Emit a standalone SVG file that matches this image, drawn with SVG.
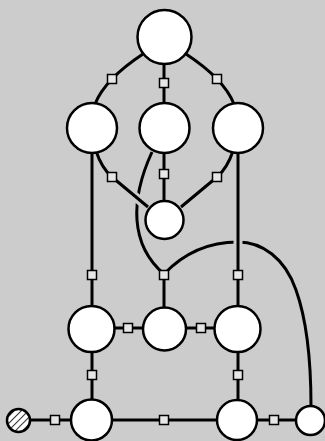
<svg xmlns="http://www.w3.org/2000/svg" width="325" height="441" viewBox="0 0 325 441">
  <defs>
    <style>
      .edge { fill: none; stroke: #000; stroke-width: 3; }
      .gap { fill: none; stroke: #cccccc; stroke-width: 9; }
      .node { fill: #fff; stroke: #000; stroke-width: 2.5; }
      .port { fill: #e6e6e6; stroke: #000; stroke-width: 1.5; }
    </style>
    <pattern id="hatch" patternUnits="userSpaceOnUse" width="5" height="5" patternTransform="rotate(45)">
      <rect width="5" height="5" fill="#fff"/>
      <line x1="0" y1="0" x2="0" y2="5" stroke="#000" stroke-width="1.6"/>
    </pattern>
  </defs>
  <rect width="325" height="441" fill="#cccccc"/>

  <g id="connectors">
    <!-- long curves drawn first so crossing lines can cut a gap into them -->
    <path class="edge" d="M152,152 C130,200 130,245 164,274"/>
    <path class="edge" d="M164,274 C185,252 210,242 238,242 C262,242 285,258 296,290 C306,318 311,360 311,406"/>
    <!-- gaps where straight lines pass over the curves -->
    <path class="gap" d="M131,193 L145,205"/>
    <path class="gap" d="M238,236 L238,248"/>

    <!-- top fan -->
    <path class="edge" d="M143,54 Q105,79 95,104"/>
    <path class="edge" d="M186,54 Q224,79 234,104"/>
    <path class="edge" d="M164,64 L164,103"/>
    <!-- second level to centre node -->
    <path class="edge" d="M96,151 C100,163 105,171 112,177 L148,207"/>
    <path class="edge" d="M233,151 C229,163 224,171 217,177 L181,207"/>
    <path class="edge" d="M164,153 L164,201"/>
    <!-- verticals -->
    <path class="edge" d="M92,153 L92,306"/>
    <path class="edge" d="M238,153 L238,306"/>
    <path class="edge" d="M164,274 L164,307"/>
    <path class="edge" d="M92,352 L92,400"/>
    <path class="edge" d="M238,352 L238,400"/>
    <!-- horizontals -->
    <path class="edge" d="M114,328 L143,328"/>
    <path class="edge" d="M186,328 L215,328"/>
    <path class="edge" d="M30,420 L71,420"/>
    <path class="edge" d="M112,420 L217,420"/>
    <path class="edge" d="M257,420 L296,420"/>

    <!-- ports -->
    <rect class="port" x="107.5" y="74.5" width="9" height="9"/>
    <rect class="port" x="159.5" y="78.5" width="9" height="9"/>
    <rect class="port" x="212.5" y="74.5" width="9" height="9"/>
    <rect class="port" x="107.5" y="172.5" width="9" height="9"/>
    <rect class="port" x="159.5" y="169.5" width="9" height="9"/>
    <rect class="port" x="212.5" y="172.5" width="9" height="9"/>
    <rect class="port" x="87.5" y="270.5" width="9" height="9"/>
    <rect class="port" x="159.5" y="270.5" width="9" height="9"/>
    <rect class="port" x="233.5" y="270.5" width="9" height="9"/>
    <rect class="port" x="123.5" y="323.5" width="9" height="9"/>
    <rect class="port" x="196.5" y="323.5" width="9" height="9"/>
    <rect class="port" x="87.5" y="370.5" width="9" height="9"/>
    <rect class="port" x="233.5" y="370.5" width="9" height="9"/>
    <rect class="port" x="50.5" y="415.5" width="9" height="9"/>
    <rect class="port" x="159.5" y="415.5" width="9" height="9"/>
    <rect class="port" x="269.5" y="415.5" width="9" height="9"/>
  </g>

  <g id="n-top"><circle class="node" cx="164.5" cy="37" r="27"/></g>
  <g id="n-left"><circle class="node" cx="92" cy="128" r="25"/></g>
  <g id="n-mid"><circle class="node" cx="164.5" cy="128" r="25"/></g>
  <g id="n-right"><circle class="node" cx="238" cy="128" r="25"/></g>
  <g id="n-centre"><circle class="node" cx="164.5" cy="220" r="19"/></g>
  <g id="n-row3-left"><circle class="node" cx="91.5" cy="329" r="23"/></g>
  <g id="n-row3-mid"><circle class="node" cx="164.5" cy="329" r="21.5"/></g>
  <g id="n-row3-right"><circle class="node" cx="237.5" cy="329" r="23"/></g>
  <g id="n-row4-left"><circle class="node" cx="91.5" cy="420" r="20.5"/></g>
  <g id="n-row4-right"><circle class="node" cx="237" cy="420" r="20"/></g>
  <g id="n-end"><circle class="node" cx="310.5" cy="420.5" r="14.5"/></g>
  <g id="n-source"><circle class="node" cx="18.5" cy="420.5" r="11.5" style="fill:url(#hatch)"/></g>
</svg>
